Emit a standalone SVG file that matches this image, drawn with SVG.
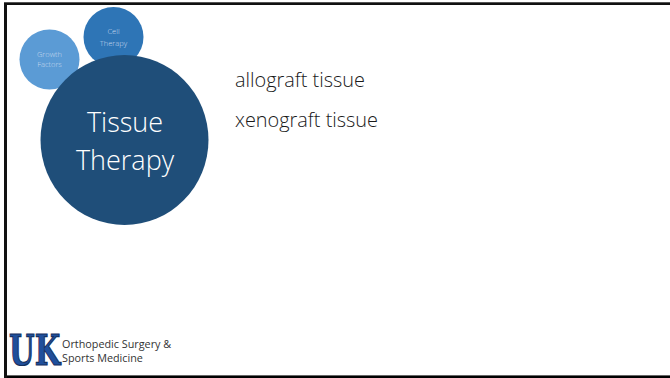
<svg xmlns="http://www.w3.org/2000/svg" width="670" height="378" viewBox="0 0 670 378">
<style>
.t{font-family:"Open Sans","Noto Sans","Liberation Sans",sans-serif;font-weight:300;text-anchor:middle}
.b{font-family:"Open Sans","Noto Sans","Liberation Sans",sans-serif;font-weight:300;fill:#1a1a1a;font-size:19.900px}
.s{font-size:7.500px;fill:#c6d9ee}
.f{font-family:"Open Sans","Noto Sans","Liberation Sans",sans-serif;font-size:10.800px;fill:#333}
</style>
<rect width="670" height="378" fill="#fff"/>
<path d="M5.500 378V3.500H670" fill="none" stroke="#111" stroke-width="3"/>
<path d="M4 2.500H670" stroke="#555" stroke-width="1"/>
<path d="M7 375.500H670" stroke="#666" stroke-width="1"/>
<path d="M7 377H670" stroke="#000" stroke-width="2"/>
<g id="node-cell">
<circle cx="113.500" cy="37" r="30" fill="#2e75b6"/>
<text class="t s"><tspan x="113.500" y="34">Cell</tspan><tspan x="113.500" y="46">Therapy</tspan></text>
</g>
<g id="node-growth">
<circle cx="49.500" cy="59.500" r="30" fill="#5b9bd5"/>
<text class="t s"><tspan x="49.500" y="57">Growth</tspan><tspan x="49.500" y="67">Factors</tspan></text>
</g>
<g id="node-tissue">
<ellipse cx="124.500" cy="140" rx="84" ry="85" fill="#1f4e79"/>
<text class="t" font-size="27" fill="#fff"><tspan x="125" y="132">Tissue</tspan><tspan x="125" y="170">Therapy</tspan></text>
</g>
<g id="list">
<text class="b" x="235" y="87">allograft tissue</text>
<text class="b" x="235" y="127">xenograft tissue</text>
</g>
<g id="logo">
<text transform="translate(9 365) scale(.7 1)" font-family="DejaVu Serif" font-weight="bold" font-size="42" fill="#1f4f9c" stroke="#14305f" stroke-width="1.200">UK</text>
</g>
<g id="footer">
<text class="f"><tspan x="62" y="348">Orthopedic Surgery &amp;</tspan><tspan x="62" y="362">Sports Medicine</tspan></text>
</g>
<g id="connectors"/>
</svg>
